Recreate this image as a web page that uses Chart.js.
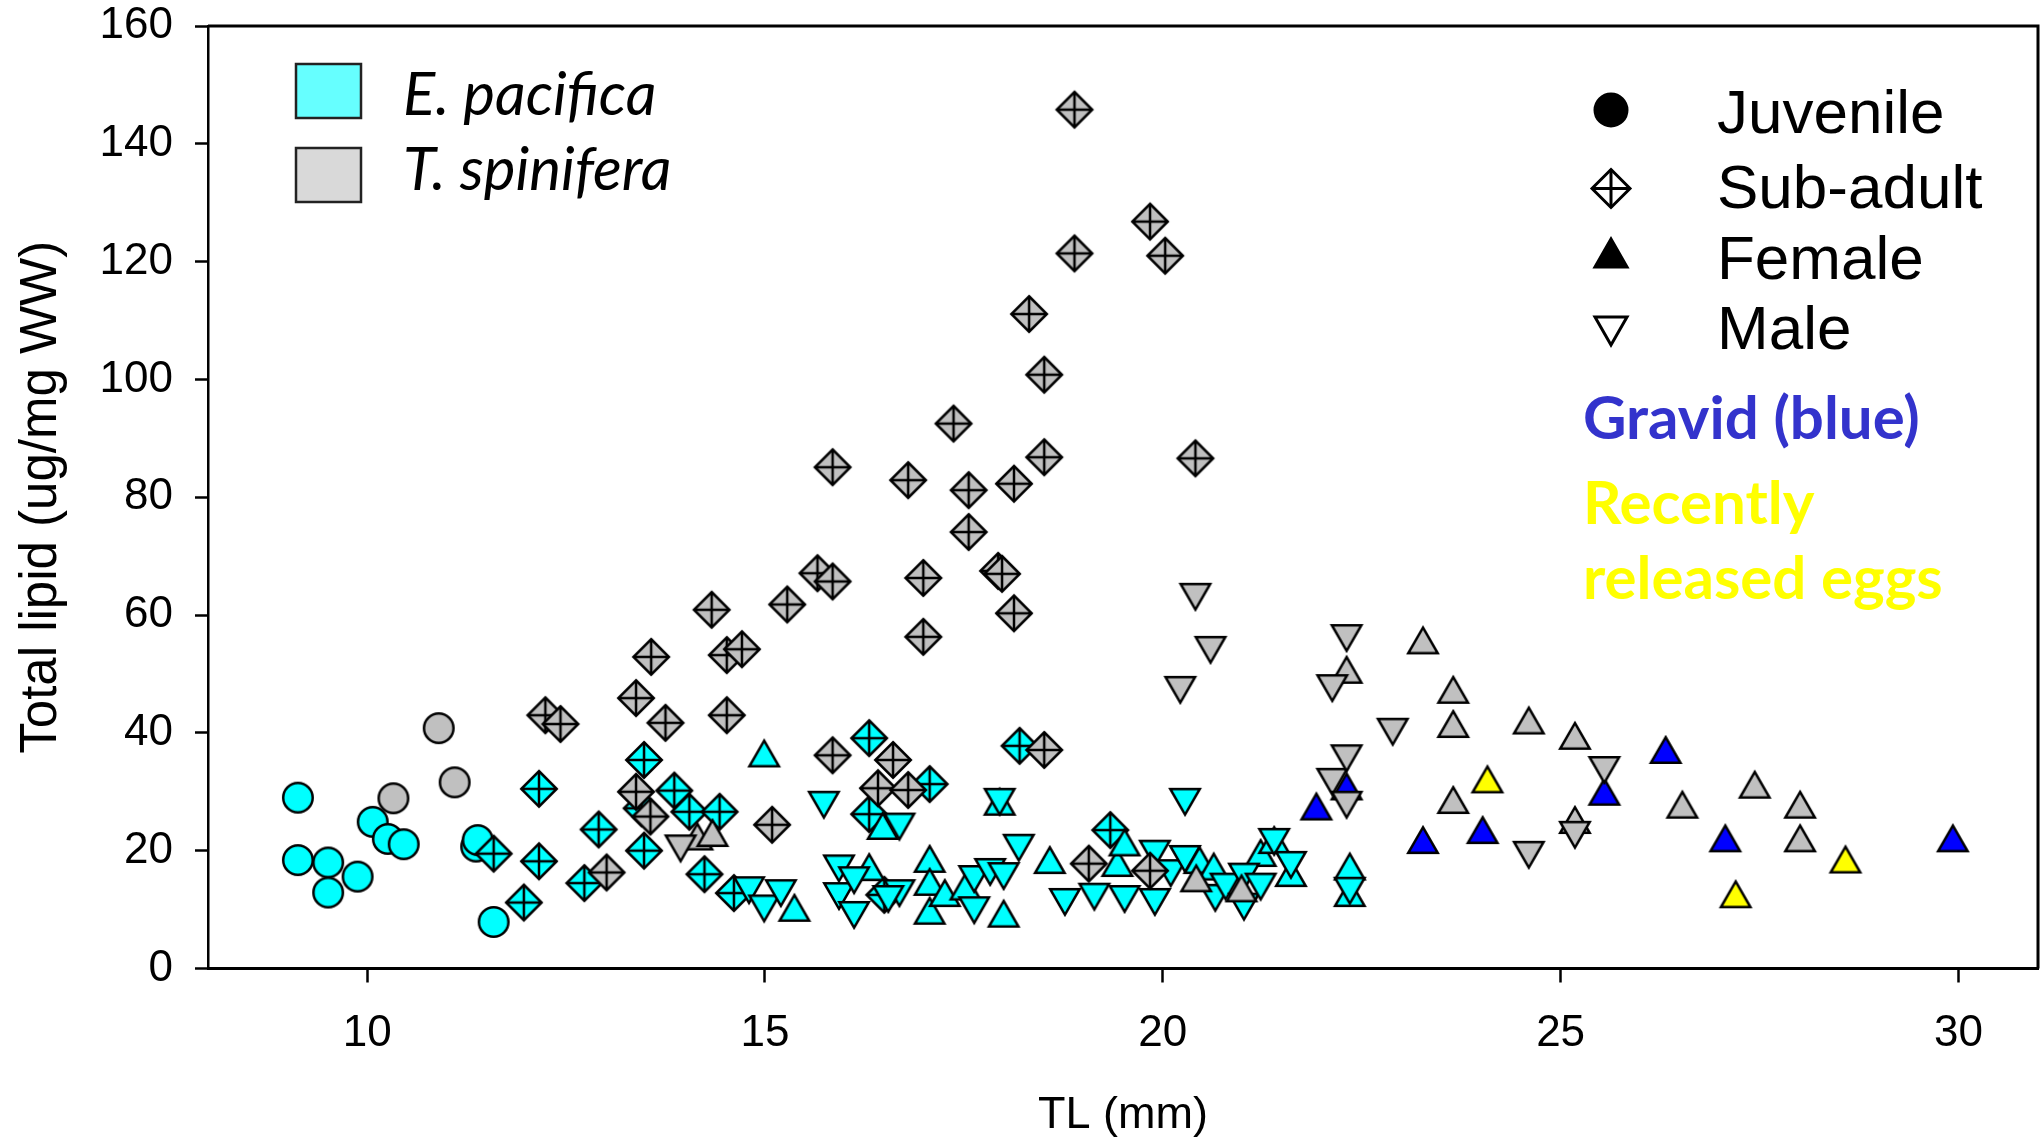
<!DOCTYPE html>
<html>
<head>
<meta charset="utf-8">
<script src="https://cdn.jsdelivr.net/npm/chart.js@4.4.0/dist/chart.umd.min.js"></script>
<style>
  html, body { margin: 0; padding: 0; background: #fff; }
  #grafica { display: block; }
</style>
</head>
<body>
<canvas id="grafica" width="2041" height="1139"></canvas>
<script>
// Valores: [TL (mm), lipido total (ug/mg WW)]
const ticksX = [10, 15, 20, 25, 30];
const ticksY = [0, 20, 40, 60, 80, 100, 120, 140, 160];
const especies = ["E. pacifica", "T. spinifera"];
const estadios = ["Juvenile", "Sub-adult", "Female", "Male"];

const epJuvenil = [[9.13, 29.0], [9.13, 18.4], [9.51, 18.0], [9.51, 12.9], [9.88, 15.6], [10.07, 24.9],
  [10.26, 22.0], [10.46, 21.1], [11.37, 20.7], [11.39, 21.8], [11.59, 7.9]];
const tsJuvenil = [[10.33, 28.9], [10.9, 40.8], [11.1, 31.6]];

const epSubadulto = [[11.59, 19.5], [11.97, 11.2], [12.16, 30.5], [12.16, 18.2], [12.73, 14.5], [12.91, 23.6],
  [13.45, 27.2], [13.48, 35.4], [13.48, 20.0], [13.86, 30.2], [14.05, 26.6], [14.24, 16.0], [14.43, 26.6],
  [14.61, 12.8], [16.31, 39.1], [16.31, 26.2], [16.5, 12.5], [17.07, 31.3], [18.2, 37.8], [19.34, 23.5]];
const tsSubadulto = [[12.24, 43.0], [12.43, 41.5], [13.01, 16.3], [13.38, 45.9], [13.38, 30.0], [13.56, 25.8],
  [13.57, 52.9], [13.75, 41.7], [14.33, 60.9], [14.52, 53.2], [14.52, 43.0], [14.71, 54.2], [15.09, 24.4],
  [15.28, 61.8], [15.66, 67.1], [15.85, 65.7], [15.85, 85.1], [15.85, 36.2], [16.42, 30.6], [16.61, 35.4],
  [16.8, 82.9], [16.8, 30.3], [16.99, 66.3], [16.99, 56.3], [17.37, 92.5], [17.56, 81.2], [17.56, 74.1],
  [17.93, 67.5], [17.98, 67.0], [18.13, 82.3], [18.13, 60.3], [18.32, 111.1], [18.51, 100.8], [18.51, 86.8],
  [18.51, 37.1], [18.89, 145.8], [18.89, 121.4], [19.07, 17.8], [19.84, 126.8], [19.84, 16.6], [20.03, 121.0],
  [20.41, 86.6]];

const epHembra = [[14.99, 36.5], [15.37, 10.3], [16.31, 17.2], [16.48, 24.2], [17.07, 18.6], [17.07, 14.7],
  [17.07, 9.8], [17.26, 12.8], [17.52, 13.9], [17.95, 28.3], [18.0, 9.3], [18.58, 18.4], [19.43, 17.9],
  [19.52, 21.4], [20.46, 18.4], [20.64, 17.3], [21.23, 19.6], [21.4, 21.8], [21.61, 16.2], [22.35, 17.3],
  [22.35, 12.8]];
const epMacho = [[14.8, 13.3], [14.99, 10.2], [15.2, 12.8], [15.74, 27.8], [15.93, 17.0], [15.93, 12.3],
  [16.12, 15.0], [16.12, 9.1], [16.69, 24.1], [16.69, 12.8], [16.55, 11.8], [17.63, 15.2], [17.63, 9.9],
  [17.83, 16.4], [17.95, 28.3], [18.0, 15.7], [18.19, 20.5], [18.77, 11.3], [19.14, 12.2], [19.52, 11.8],
  [19.9, 11.3], [19.9, 19.5], [20.1, 16.2], [20.28, 28.3], [20.28, 18.6], [20.66, 12.0], [20.79, 13.9],
  [21.02, 10.5], [21.02, 15.6], [21.23, 13.9], [21.4, 21.5], [21.61, 17.6], [22.35, 13.2]];

const tsHembra = [[14.15, 22.4], [14.34, 23.0], [20.42, 15.3], [20.99, 13.6], [22.31, 50.7], [23.27, 55.7],
  [23.65, 47.3], [23.65, 41.5], [23.65, 28.6], [24.6, 42.1], [25.18, 39.5], [25.18, 25.2], [26.53, 27.8],
  [27.44, 31.2], [28.01, 27.8], [28.01, 22.1]];
const tsMacho = [[13.94, 20.4], [20.22, 47.3], [20.41, 63.1], [20.6, 54.1], [22.13, 47.6], [22.13, 31.7],
  [22.31, 56.1], [22.31, 35.7], [22.31, 27.8], [22.89, 40.2], [24.6, 19.3], [25.18, 22.7], [25.55, 33.7]];
const tsGravida = [[21.93, 27.5], [22.31, 30.9], [23.27, 21.8], [24.02, 23.5], [25.55, 30.0], [26.32, 37.1],
  [27.07, 22.1], [29.93, 22.1]];
const tsHuevos = [[24.08, 32.1], [27.2, 12.6], [28.58, 18.5]];

const CIAN = "#00ffff";
const GRIS = "#c0c0c0";
const AZUL = "#0000ff";
const AMARILLO = "#ffff00";

function trazarSimbolo(ctx, forma, cx, cy, tam, relleno, lw) {
  const r = tam / 2;
  const h = tam * 0.87;
  ctx.save();
  ctx.lineWidth = lw;
  ctx.strokeStyle = "#000";
  ctx.fillStyle = relleno;
  ctx.lineJoin = "miter";
  ctx.beginPath();
  if (forma === "circulo") {
    ctx.arc(cx, cy, r, 0, Math.PI * 2);
  } else if (forma === "rombo") {
    ctx.moveTo(cx, cy - r); ctx.lineTo(cx + r, cy); ctx.lineTo(cx, cy + r); ctx.lineTo(cx - r, cy);
    ctx.closePath();
  } else if (forma === "arriba") {
    ctx.moveTo(cx, cy - h / 2); ctx.lineTo(cx + r, cy + h / 2); ctx.lineTo(cx - r, cy + h / 2);
    ctx.closePath();
  } else {
    ctx.moveTo(cx - r, cy - h / 2); ctx.lineTo(cx + r, cy - h / 2); ctx.lineTo(cx, cy + h / 2);
    ctx.closePath();
  }
  ctx.fill();
  ctx.stroke();
  if (forma === "rombo") {
    ctx.beginPath();
    ctx.moveTo(cx, cy - r); ctx.lineTo(cx, cy + r);
    ctx.moveTo(cx - r, cy); ctx.lineTo(cx + r, cy);
    ctx.stroke();
  }
  ctx.restore();
}

const tamanos = { circulo: 29.5, rombo: 35.5, arriba: 29.5, abajo: 29.5 };

function simbolo(forma, relleno) {
  const c = document.createElement("canvas");
  c.width = 48; c.height = 48;
  trazarSimbolo(c.getContext("2d"), forma, 24, 24, tamanos[forma], relleno, 2.5);
  return c;
}

// de abajo hacia arriba en el orden de dibujo
const series = [
  { nombre: "E. pacifica Juvenile", datos: epJuvenil, forma: "circulo", color: CIAN },
  { nombre: "T. spinifera Juvenile", datos: tsJuvenil, forma: "circulo", color: GRIS },
  { nombre: "E. pacifica Sub-adult", datos: epSubadulto, forma: "rombo", color: CIAN },
  { nombre: "E. pacifica Female", datos: epHembra, forma: "arriba", color: CIAN },
  { nombre: "E. pacifica Male", datos: epMacho, forma: "abajo", color: CIAN },
  { nombre: "T. spinifera Gravid", datos: tsGravida, forma: "arriba", color: AZUL },
  { nombre: "T. spinifera Recently released eggs", datos: tsHuevos, forma: "arriba", color: AMARILLO },
  { nombre: "T. spinifera Female", datos: tsHembra, forma: "arriba", color: GRIS },
  { nombre: "T. spinifera Male", datos: tsMacho, forma: "abajo", color: GRIS },
  { nombre: "T. spinifera Sub-adult", datos: tsSubadulto, forma: "rombo", color: GRIS }
];

const datasets = series.map((s, i) => ({
  label: s.nombre,
  data: s.datos.map(([x, y]) => ({ x, y })),
  pointStyle: simbolo(s.forma, s.color),
  pointRadius: 16,
  pointHoverRadius: 16,
  order: series.length - i
}));

// marco superior/derecho y las dos leyendas
const marcoYLeyendas = {
  id: "marcoYLeyendas",
  afterDraw(chart) {
    const ctx = chart.ctx;
    const a = chart.chartArea;
    ctx.save();
    ctx.strokeStyle = "#000";
    ctx.lineWidth = 3;
    ctx.beginPath();
    ctx.moveTo(a.left, a.top);
    ctx.lineTo(a.right, a.top);
    ctx.lineTo(a.right, a.bottom);
    ctx.stroke();

    // leyenda de especies
    const cuadros = ["#66ffff", "#d9d9d9"];
    const yCuadro = [64, 148];
    const yTexto = [115, 190];
    ctx.lineWidth = 2.5;
    ctx.strokeStyle = "#222";
    especies.forEach((nombre, i) => {
      ctx.fillStyle = cuadros[i];
      ctx.fillRect(296, yCuadro[i], 65, 54);
      ctx.strokeRect(296, yCuadro[i], 65, 54);
      ctx.fillStyle = "#000";
      ctx.font = "italic 60px Lato";
      ctx.textAlign = "left";
      ctx.textBaseline = "alphabetic";
      ctx.fillText(nombre, 403, yTexto[i]);
    });

    // leyenda de estadios
    const formas = ["circulo", "rombo", "arriba", "abajo"];
    const rellenos = ["#000", "#fff", "#000", "#fff"];
    const tam = [32, 38, 32, 32];
    const ySimb = [110, 188.5, 253, 331];
    const yBase = [133, 208, 278.5, 348.5];
    estadios.forEach((nombre, i) => {
      trazarSimbolo(ctx, formas[i], 1611, ySimb[i], tam[i], rellenos[i], 3);
      ctx.fillStyle = "#000";
      ctx.font = "62px 'Liberation Sans', Arial";
      ctx.textAlign = "left";
      ctx.textBaseline = "alphabetic";
      ctx.fillText(nombre, 1717, yBase[i]);
    });

    ctx.font = "bold 60px Lato";
    ctx.fillStyle = "#3333cc";
    ctx.fillText("Gravid (blue)", 1583, 439);
    ctx.fillStyle = "#ffff00";
    ctx.fillText("Recently", 1583, 524);
    ctx.fillText("released eggs", 1583, 599);
    ctx.restore();
  }
};

const fuenteEje = { family: "'Liberation Sans', Arial", size: 44 };

new Chart(document.querySelector("#grafica"), {
  type: "scatter",
  data: { datasets },
  options: {
    responsive: false,
    animation: false,
    events: [],
    layout: { autoPadding: false, padding: { top: 26, right: 3, left: 0, bottom: 0 } },
    plugins: { legend: { display: false }, tooltip: { enabled: false } },
    scales: {
      x: {
        type: "linear",
        min: 8,
        max: 31,
        afterBuildTicks: (s) => { s.ticks = ticksX.map((v) => ({ value: v })); },
        afterFit: (s) => { s.height = 170.5; s.paddingLeft = 0; s.paddingRight = 0; },
        border: { display: true, color: "#000", width: 3 },
        grid: { drawOnChartArea: false, drawTicks: true, tickLength: 14, tickWidth: 2.5, tickColor: "#000" },
        ticks: { color: "#000", font: fuenteEje, padding: 25, maxRotation: 0 },
        title: {
          display: true,
          text: "TL (mm)",
          color: "#000",
          font: { family: "'Liberation Sans', Arial", size: 45, lineHeight: 1.05 },
          padding: { top: 0, bottom: 0 }
        }
      },
      y: {
        type: "linear",
        min: 0,
        max: 160,
        afterBuildTicks: (s) => { s.ticks = ticksY.map((v) => ({ value: v })); },
        afterFit: (s) => { s.width = 208; s.paddingTop = 0; s.paddingBottom = 0; },
        border: { display: true, color: "#000", width: 2.5 },
        grid: { drawOnChartArea: false, drawTicks: true, tickLength: 13, tickWidth: 2.5, tickColor: "#000" },
        ticks: { color: "#000", font: fuenteEje, padding: 22 },
        title: {
          display: true,
          text: "Total lipid (ug/mg WW)",
          color: "#000",
          font: { family: "'Liberation Sans', Arial", size: 51 },
          padding: { top: 11, bottom: 0 }
        }
      }
    }
  },
  plugins: [marcoYLeyendas]
});
</script>
</body>
</html>
